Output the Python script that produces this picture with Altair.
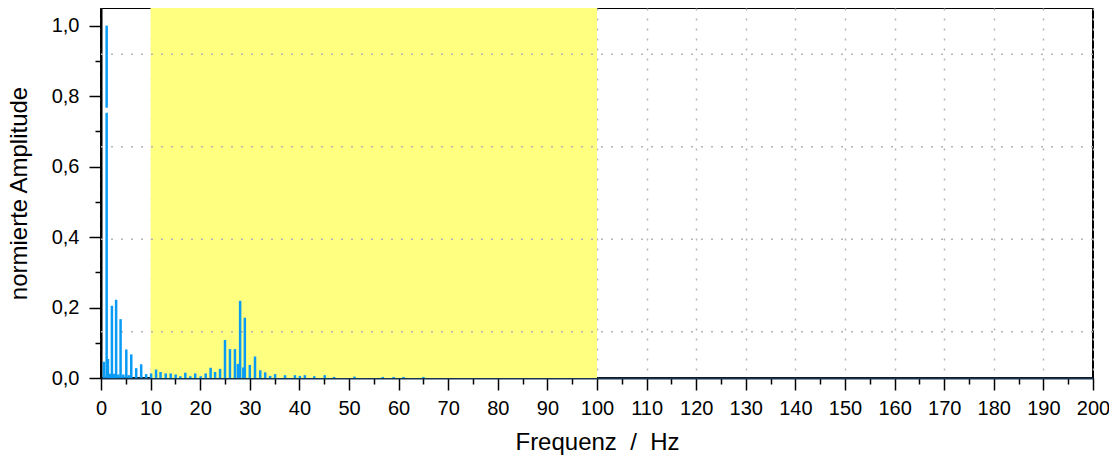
import altair as alt
import pandas as pd

# ---- data ----
freq = [0.6, 1.14, 1.14, 1.4, 1.8, 2.2, 2.6, 3.05, 3.5, 3.95, 4.5, 5.1, 5.6, 6.1, 7.1,
        8.1, 9.1, 10.1, 11.1, 12.0, 13.05, 14.05, 15.05, 16.0, 17.0, 18.0, 19.0,
        20.1, 21.1, 22.1, 23.0, 24.0, 25.0, 26.0, 27.0, 27.6, 28.05, 28.7, 29.0,
        30.0, 31.05, 32.1, 33.1, 34.1, 35.1, 37.1, 39.1, 40.1, 41.1, 43.0, 45.1,
        47.0, 51.1, 56.8, 59.0, 61.0, 65.0]
amp_lo = [0, 0, 0.767, 0, 0, 0, 0, 0, 0, 0, 0, 0, 0, 0, 0,
          0, 0, 0, 0, 0, 0, 0, 0, 0, 0, 0, 0,
          0, 0, 0, 0, 0, 0, 0, 0, 0, 0, 0, 0,
          0, 0, 0, 0, 0, 0, 0, 0, 0, 0, 0, 0,
          0, 0, 0, 0, 0, 0]
amp_hi = [0.046, 0.753, 1.0, 0.054, 0.012, 0.205, 0.012, 0.222, 0.01, 0.167, 0.01, 0.081, 0.008, 0.067, 0.028,
          0.039, 0.011, 0.013, 0.024, 0.017, 0.013, 0.013, 0.01, 0.005, 0.015, 0.005, 0.013,
          0.005, 0.013, 0.029, 0.017, 0.026, 0.108, 0.082, 0.082, 0.04, 0.219, 0.03, 0.171,
          0.037, 0.061, 0.022, 0.016, 0.006, 0.011, 0.008, 0.008, 0.006, 0.008, 0.005, 0.008,
          0.003, 0.004, 0.003, 0.003, 0.003, 0.003]

band_start = [10]
band_end = [100]

x_major = list(range(0, 201, 10))
x_minor = list(range(5, 200, 10))
y_major = [0.0, 0.2, 0.4, 0.6, 0.8, 1.0]
y_minor = [0.1, 0.3, 0.5, 0.7, 0.9]
y_grid = [0.13125, 0.39375, 0.65625, 0.91875]

x_domain = [0, 200]
y_domain = [0, 1.05]

x_title = "Frequenz\u00a0\u00a0/\u00a0\u00a0Hz"
y_title = "normierte Amplitude"

FONT = "Liberation Sans"

spec_df = pd.DataFrame({"f": freq, "lo": amp_lo, "hi": amp_hi})
band_df = pd.DataFrame({"s": band_start, "e": band_end})
grid_df = pd.DataFrame({"g": y_grid})

xs = alt.Scale(domain=x_domain, nice=False, zero=False)
ys = alt.Scale(domain=y_domain, nice=False)

band = alt.Chart(band_df).mark_rect(color="#FFFF80").encode(
    x=alt.X("s:Q", scale=xs,
            axis=alt.Axis(orient="bottom", values=x_minor, tickSize=6, tickWidth=1.5,
                          tickColor="black", labels=False, domain=False, grid=False,
                          title=None)),
    x2="e:Q",
)

hgrid = alt.Chart(grid_df).mark_rule(color="#b4b4b4", strokeWidth=1.5, strokeDash=[2, 8]).encode(
    y=alt.Y("g:Q", scale=ys,
            axis=alt.Axis(orient="left", values=y_minor, tickSize=6, tickWidth=1.5,
                          tickColor="black", labels=False, domain=False, grid=False,
                          title=None)),
)

stems = alt.Chart(spec_df).mark_rule(color="#0a9cf5", strokeWidth=2.5).encode(
    x=alt.X("f:Q", scale=xs,
            axis=alt.Axis(orient="bottom", values=x_major, tickSize=12, tickWidth=1.5,
                          tickColor="black", domainColor="#1b3550", domainWidth=2,
                          labelFont=FONT, labelFontSize=20, labelColor="black",
                          labelPadding=8, labelFlush=False,
                          grid=True, gridColor="#b4b4b4", gridWidth=1.5, gridDash=[2, 8],
                          title=x_title, titleFont=FONT, titleFontSize=24,
                          titleFontWeight="normal", titleColor="black", titlePadding=12)),
    y=alt.Y("lo:Q", scale=ys,
            axis=alt.Axis(orient="left", values=y_major, tickSize=12, tickWidth=1.5,
                          tickColor="black", domainColor="black", domainWidth=2,
                          labelFont=FONT, labelFontSize=20, labelColor="black",
                          labelPadding=10,
                          labelExpr="replace(format(datum.value, '.1f'), '.', ',')",
                          grid=False,
                          title=y_title, titleFont=FONT, titleFontSize=24,
                          titleFontWeight="normal", titleColor="black", titlePadding=20)),
    y2="hi:Q",
)

chart = alt.layer(band, hgrid, stems).resolve_axis(
    x="independent", y="independent"
).properties(
    width=992, height=370,
    autosize=alt.AutoSizeParams(type="none"),
    padding={"left": 93, "top": 0, "right": 16, "bottom": 80},
).configure_view(
    stroke="black", strokeWidth=2
).configure_axis(zindex=1)

chart.save("out.html", embed_options={"renderer": "svg", "actions": False})
